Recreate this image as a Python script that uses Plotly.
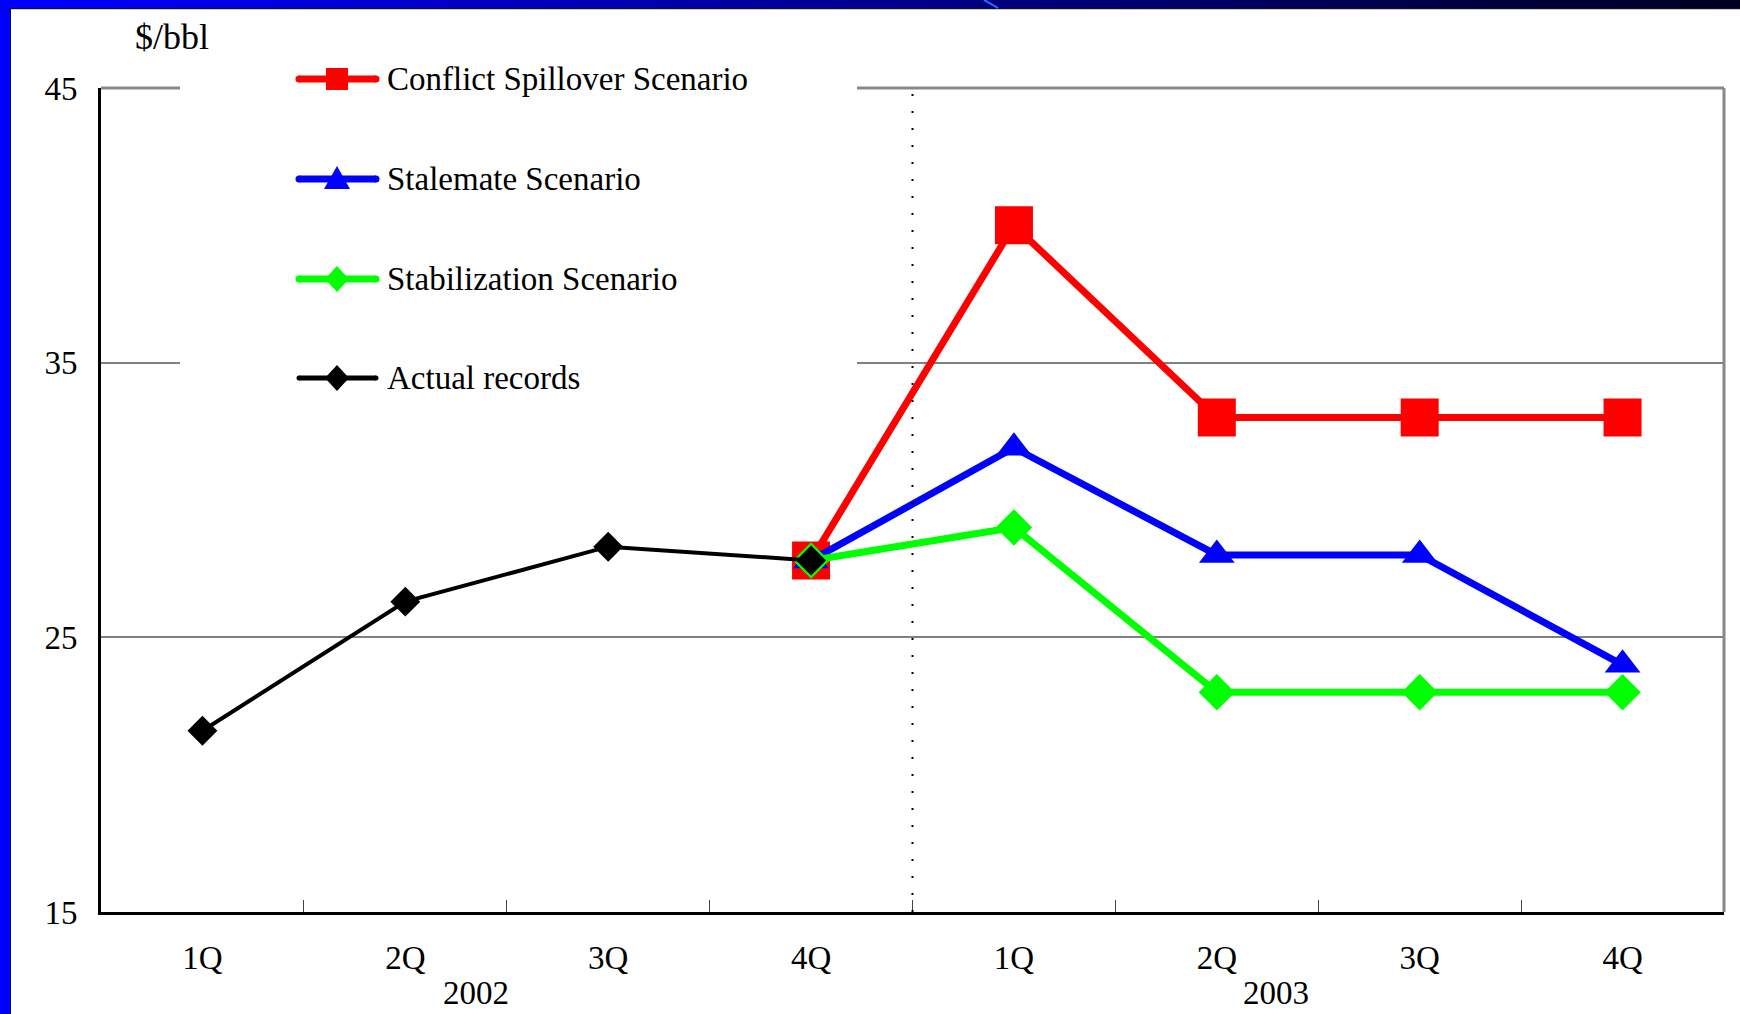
import plotly.graph_objects as go

# Quarterly crude oil price paths, $/bbl
quarters = ["1Q", "2Q", "3Q", "4Q", "1Q", "2Q", "3Q", "4Q"]
years = ["2002", "2003"]
year_pos = [1.35, 5.29]
x_actual = [0, 1, 2, 3]
actual = [21.6, 26.3, 28.3, 27.8]
x_scen = [3, 4, 5, 6, 7]
conflict = [27.8, 40.0, 33.0, 33.0, 33.0]
stalemate = [27.8, 31.9, 28.0, 28.0, 24.0]
stabilization = [27.8, 29.0, 23.0, 23.0, 23.0]

W, H = 1740, 1014
FONT = "Liberation Serif, Times New Roman, serif"


def px(x):
    return x / W


def py(y):
    return 1 - y / H


fig = go.Figure()

fig.add_trace(go.Scatter(
    x=x_scen, y=conflict, mode="lines+markers", name="Conflict Spillover Scenario",
    line=dict(color="#FF0000", width=7),
    marker=dict(symbol="square", size=38, color="#FF0000", line=dict(width=0)),
))
fig.add_trace(go.Scatter(
    x=x_scen, y=stalemate, mode="lines+markers", name="Stalemate Scenario",
    line=dict(color="#0000FF", width=7),
    marker=dict(symbol="triangle-up", size=31, color="#0000FF", line=dict(width=0)),
))
fig.add_trace(go.Scatter(
    x=x_scen, y=stabilization, mode="lines+markers", name="Stabilization Scenario",
    line=dict(color="#00FF00", width=7),
    marker=dict(symbol="diamond", size=28, color="#00FF00", line=dict(width=0)),
))
fig.add_trace(go.Scatter(
    x=x_actual, y=actual, mode="lines+markers", name="Actual records",
    line=dict(color="#000000", width=4),
    marker=dict(symbol="diamond", size=23, color="#000000", line=dict(width=0)),
))

# plot area in pixels
L, R, T, B = 101, 1724, 88, 912

shapes = []
# forecast divider
shapes.append(dict(type="line", xref="x", yref="y", x0=3.5, x1=3.5, y0=15, y1=45,
                   line=dict(color="black", width=2, dash="2px,15px"), layer="above"))
# top and right frame
shapes.append(dict(type="line", xref="paper", yref="paper", x0=px(L), x1=px(R), y0=py(T), y1=py(T),
                   line=dict(color="#888888", width=3), layer="above"))
shapes.append(dict(type="line", xref="paper", yref="paper", x0=px(R), x1=px(R), y0=py(T), y1=py(B),
                   line=dict(color="#888888", width=3), layer="above"))

# legend panel
shapes.append(dict(type="rect", xref="paper", yref="paper", x0=px(180), x1=px(857),
                   y0=py(50), y1=py(405), fillcolor="white", line=dict(width=0), layer="above"))

legend_items = [
    ("Conflict Spillover Scenario", "#FF0000", "square", 79),
    ("Stalemate Scenario", "#0000FF", "triangle", 179),
    ("Stabilization Scenario", "#00FF00", "diamond", 279),
    ("Actual records", "#000000", "diamond", 378),
]


def poly(points):
    return "M " + " L ".join(f"{px(a):.5f},{py(b):.5f}" for a, b in points) + " Z"


annotations = []
for label, color, sym, yc in legend_items:
    lw = 5 if color == "#000000" else 7
    x0, x1 = 299, 376
    shapes.append(dict(type="line", xref="paper", yref="paper", x0=px(x0), x1=px(x1),
                       y0=py(yc), y1=py(yc), line=dict(color=color, width=lw), layer="above"))
    for xe in (x0, x1):
        r = lw / 2
        shapes.append(dict(type="circle", xref="paper", yref="paper",
                           x0=px(xe - r), x1=px(xe + r), y0=py(yc + r), y1=py(yc - r),
                           fillcolor=color, line=dict(width=0), layer="above"))
    cx = 337
    if sym == "square":
        pts = [(cx - 11, yc - 11), (cx + 11, yc - 11), (cx + 11, yc + 11), (cx - 11, yc + 11)]
    elif sym == "triangle":
        pts = [(cx, yc - 13), (cx + 13, yc + 10), (cx - 13, yc + 10)]
    else:
        pts = [(cx, yc - 13), (cx + 12, yc), (cx, yc + 13), (cx - 12, yc)]
    shapes.append(dict(type="path", xref="paper", yref="paper", path=poly(pts),
                       fillcolor=color, line=dict(width=0), layer="above"))
    annotations.append(dict(text=label, xref="paper", yref="paper", x=px(385), y=py(yc),
                            xanchor="left", yanchor="middle", showarrow=False,
                            font=dict(family=FONT, size=33, color="black")))

# slide frame: blue left bar and gradient title bar
shapes.append(dict(type="rect", xref="paper", yref="paper", x0=0, x1=px(10), y0=0, y1=1,
                   fillcolor="#0000FF", line=dict(width=0), layer="above"))
shapes.append(dict(type="line", xref="paper", yref="paper", x0=px(10.5), x1=px(10.5), y0=0, y1=py(8),
                   line=dict(color="#101040", width=1), layer="above"))
n = 58
for i in range(n):
    t = i / (n - 1)
    b = int(round(255 - (255 - 32) * t))
    shapes.append(dict(type="rect", xref="paper", yref="paper",
                       x0=px(i * W / n), x1=px((i + 1) * W / n + 1), y0=py(8), y1=1,
                       fillcolor=f"rgb(0,0,{b})", line=dict(width=0), layer="above"))
shapes.append(dict(type="line", xref="paper", yref="paper", x0=px(10), x1=1, y0=py(8.5), y1=py(8.5),
                   line=dict(color="#101020", width=1), layer="above"))
shapes.append(dict(type="line", xref="paper", yref="paper", x0=px(11), x1=1, y0=py(9.5), y1=py(9.5),
                   line=dict(color="#C8C8C8", width=1), layer="above"))
shapes.append(dict(type="line", xref="paper", yref="paper", x0=px(984), x1=px(998), y0=py(0), y1=py(8),
                   line=dict(color="#3070FF", width=2), layer="above"))

# unit label
annotations.append(dict(text="$/bbl", xref="paper", yref="paper", x=px(172), y=py(37),
                        xanchor="center", yanchor="middle", showarrow=False,
                        font=dict(family=FONT, size=36, color="black")))
# year row beneath the quarters
for yr, xc in zip(years, year_pos):
    annotations.append(dict(text=yr, xref="x", yref="paper", x=xc, y=py(993),
                            xanchor="center", yanchor="middle", showarrow=False,
                            font=dict(family=FONT, size=33, color="black")))

fig.update_layout(
    width=W, height=H,
    margin=dict(l=0, r=0, t=0, b=0, autoexpand=False),
    paper_bgcolor="white", plot_bgcolor="white",
    showlegend=False,
    font=dict(family=FONT, size=33, color="black"),
    shapes=shapes,
    annotations=annotations,
    xaxis=dict(
        domain=[px(L), px(R)], range=[-0.5, 7.5], automargin=False,
        tickvals=list(range(8)), ticktext=quarters,
        ticks="", showgrid=False, zeroline=False,
        showline=True, linecolor="black", linewidth=3,
        ticklabelstandoff=14,
        minor=dict(tickvals=[0.5, 1.5, 2.5, 3.5, 4.5, 5.5, 6.5], ticks="inside",
                   ticklen=12, tickcolor="#444444", tickwidth=1, showgrid=False),
        tickfont=dict(family=FONT, size=33, color="black"),
    ),
    yaxis=dict(
        domain=[py(B), py(T)], range=[15, 45], automargin=False,
        tickvals=[15, 25, 35, 45], ticks="",
        showgrid=True, gridcolor="#808080", gridwidth=1.5,
        zeroline=False, showline=True, linecolor="black", linewidth=3,
        ticklabelstandoff=14,
        tickfont=dict(family=FONT, size=33, color="black"),
    ),
)

fig.write_html("out.html")
